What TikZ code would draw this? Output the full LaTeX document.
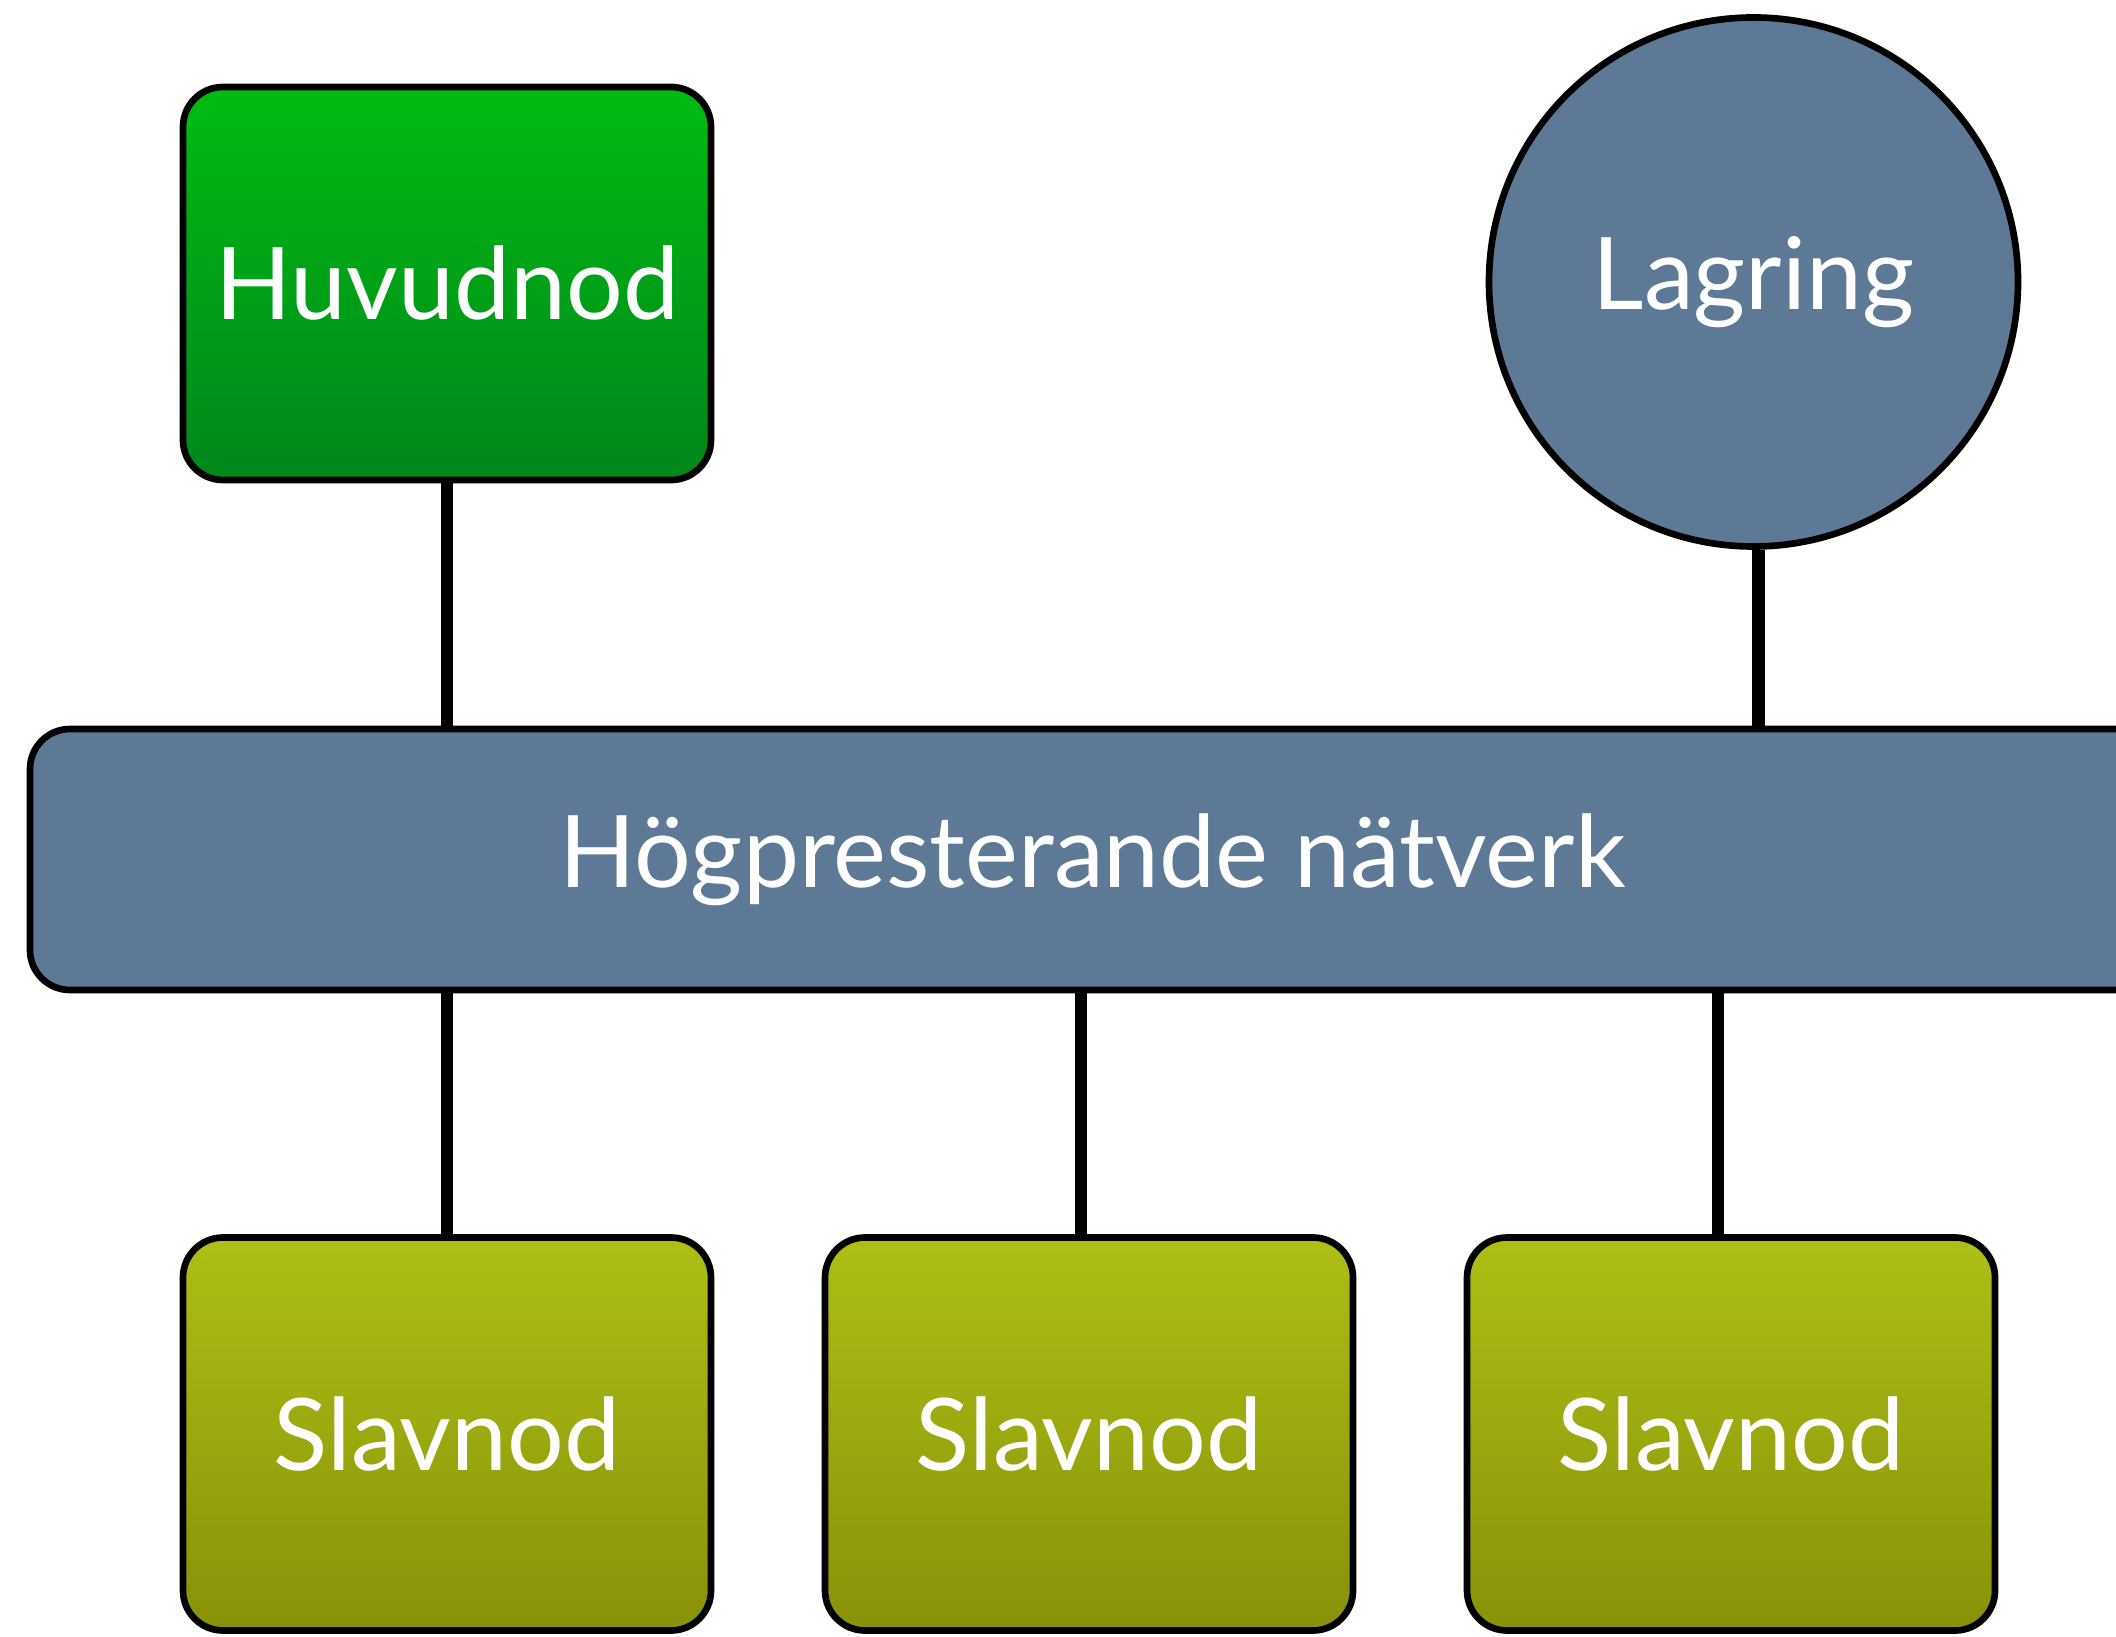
\documentclass[tikz,border=0pt]{standalone}
\usepackage{fontspec}
\setmainfont{Lato}
\usetikzlibrary{positioning}

\definecolor{huvudtop}{RGB}{0,188,18}
\definecolor{huvudbot}{RGB}{0,134,28}
\definecolor{slavtop}{RGB}{174,191,22}
\definecolor{slavbot}{RGB}{137,145,8}
\definecolor{natblue}{RGB}{94,121,150}

\begin{document}
\begin{tikzpicture}[node distance=6.42cm,
    every node/.style={text=white,font=\fontsize{28.5}{34}\selectfont},
    box/.style={draw,line width=1.9pt,rounded corners=0.4cm,
      minimum width=5.28cm,minimum height=3.93cm},
    huvud/.style={box,top color=huvudtop,bottom color=huvudbot},
    slav/.style={box,top color=slavtop,bottom color=slavbot},
    lager/.style={circle,draw,line width=1.9pt,fill=natblue,minimum size=5.29cm},
    natverk/.style={draw,line width=1.9pt,rounded corners=0.4cm,fill=natblue,
      minimum width=21.25cm,minimum height=2.61cm},
    wire/.style={line width=3.5pt}]
  \path[use as bounding box,clip] (0,0) rectangle (21.16,16.36);

  \node[huvud]   (hn)  at (4.47,13.525)  {Huvudnod};
  \node[lager]   (lag) at (17.535,13.54) {Lagring};
  \node[natverk] (net) at (10.925,7.765) {Högpresterande nätverk};
  \node[slav]    (s1)  at (4.47,2.02)    {Slavnod};
  \node[slav]    (s2)  [right of=s1]     {Slavnod};
  \node[slav]    (s3)  [right of=s2]     {Slavnod};

  % the wires do not sit quite on the middle of every box
  \path[wire] (hn.south) edge (hn.south |- net.north)
    ([xshift=0.5mm]lag.south) edge ([xshift=0.5mm]lag.south |- net.north)
    (s1.north) edge (s1.north |- net.south)
    ([xshift=-0.8mm]s2.north) edge ([xshift=-0.8mm]s2.north |- net.south)
    ([xshift=-1.3mm]s3.north) edge ([xshift=-1.3mm]s3.north |- net.south);
\end{tikzpicture}
\end{document}
